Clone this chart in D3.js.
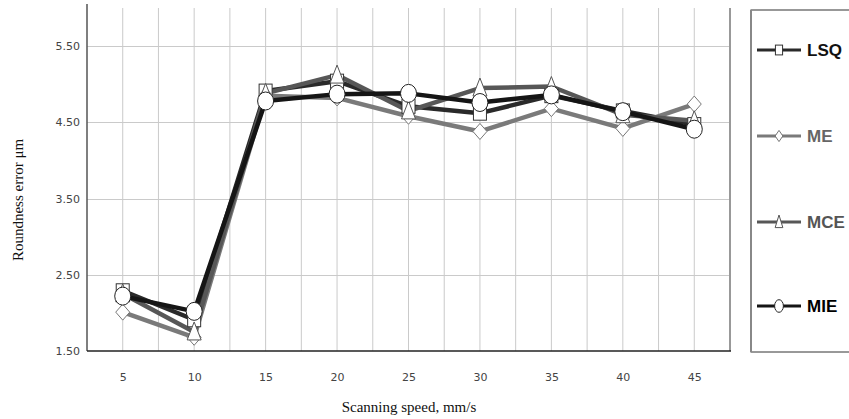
<!DOCTYPE html>
<html><head><meta charset="utf-8">
<script src="https://cdn.jsdelivr.net/npm/d3@7"></script>
<style>html,body{margin:0;padding:0;background:#fff;}svg{display:block;}</style>
</head><body>
<script>
const speeds = [5, 10, 15, 20, 25, 30, 35, 40, 45];
const yTicks = [1.5, 2.5, 3.5, 4.5, 5.5];
const seriesNames = ["LSQ", "ME", "MCE", "MIE"];
const LSQ = [2.29, 1.91, 4.91, 5.04, 4.71, 4.62, 4.85, 4.65, 4.47];
const ME  = [2.01, 1.68, 4.85, 4.82, 4.58, 4.38, 4.68, 4.42, 4.74];
const MCE = [2.25, 1.75, 4.88, 5.12, 4.65, 4.95, 4.97, 4.60, 4.52];
const MIE = [2.22, 2.02, 4.78, 4.87, 4.88, 4.76, 4.86, 4.64, 4.41];
const xTitle = "Scanning speed, mm/s";
const yTitle = "Roundness  error  \u03bcm";

const W = 849, H = 419;
const svg = d3.select("body").append("svg").attr("width", W).attr("height", H);
const x = d3.scaleLinear().domain([2.5, 47.5]).range([87, 730]);
const y = d3.scaleLinear().domain([1.5, 6.0]).range([351, 8]);

const styles = {
  LSQ: {line: "#2a2a2a", stroke: "#333", shape: "square", text: "#111"},
  ME:  {line: "#7a7a7a", stroke: "#777", shape: "diamond", text: "#666"},
  MCE: {line: "#575757", stroke: "#555", shape: "triangle", text: "#555"},
  MIE: {line: "#151515", stroke: "#222", shape: "circle", text: "#000"}
};
const data = {LSQ, ME, MCE, MIE};

// grid
const vGrid = d3.range(5, 47.5, 2.5);
svg.append("g").selectAll("line").data(vGrid).join("line")
  .attr("x1", d => x(d)).attr("x2", d => x(d)).attr("y1", y(6.0)).attr("y2", y(1.5))
  .attr("stroke", "#cacaca").attr("stroke-width", 1);
svg.append("g").selectAll("line").data(yTicks.slice(1)).join("line")
  .attr("x1", x(2.5)).attr("x2", x(47.5)).attr("y1", d => Math.round(y(d)) + 0.5).attr("y2", d => Math.round(y(d)) + 0.5)
  .attr("stroke", "#cacaca").attr("stroke-width", 1);

// borders
svg.append("line").attr("x1", x(47.5)).attr("x2", x(47.5)).attr("y1", y(6.0)).attr("y2", y(1.5))
  .attr("stroke", "#999").attr("stroke-width", 2);
svg.append("line").attr("x1", x(2.5)).attr("x2", x(2.5)).attr("y1", 4).attr("y2", y(1.5))
  .attr("stroke", "#555").attr("stroke-width", 1.5);
svg.append("line").attr("x1", x(2.5)).attr("x2", x(47.5) + 1).attr("y1", y(1.5)).attr("y2", y(1.5))
  .attr("stroke", "#222").attr("stroke-width", 1.5);

// axes labels
const yAxis = d3.axisLeft(y).tickValues(yTicks).tickSize(0).tickPadding(7).tickFormat(d3.format(".2f"));
const gy = svg.append("g").attr("transform", `translate(${x(2.5)},0)`).call(yAxis);
gy.select(".domain").remove();
gy.selectAll("text").attr("font-family", "DejaVu Sans").attr("font-size", 11).attr("fill", "#444");

const xAxis = d3.axisBottom(x).tickValues(speeds).tickSize(0).tickPadding(22).tickFormat(d3.format("d"));
const gx = svg.append("g").attr("transform", `translate(0,${y(1.5)})`).call(xAxis);
gx.select(".domain").remove();
gx.selectAll("text").attr("font-family", "DejaVu Sans").attr("font-size", 11).attr("fill", "#444");

svg.append("text").attr("x", 409).attr("y", 412).attr("text-anchor", "middle")
  .attr("font-family", "Liberation Serif").attr("font-size", 15).attr("fill", "#111").text(xTitle);
svg.append("text").attr("transform", "translate(23,200) rotate(-90)").attr("text-anchor", "middle")
  .attr("font-family", "Liberation Serif").attr("font-size", 15).attr("fill", "#111").text(yTitle);

// markers
function marker(g, shape, cx, cy, stroke, sx, sy) {
  sx = sx || 1; sy = sy || sx;
  if (shape === "square") {
    g.append("rect").attr("x", cx - 6.5 * sx).attr("y", cy - 7 * sy).attr("width", 13 * sx).attr("height", 14 * sy)
      .attr("fill", "#fff").attr("stroke", stroke).attr("stroke-width", 1);
  } else if (shape === "diamond") {
    g.append("path").attr("d", `M${cx},${cy - 8 * sy}L${cx + 7 * sx},${cy}L${cx},${cy + 8 * sy}L${cx - 7 * sx},${cy}Z`)
      .attr("fill", "#fff").attr("stroke", stroke).attr("stroke-width", 1);
  } else if (shape === "triangle") {
    g.append("path").attr("d", `M${cx},${cy - 10 * sy}L${cx + 7 * sx},${cy + 8 * sy}L${cx - 7 * sx},${cy + 8 * sy}Z`)
      .attr("fill", "#fff").attr("stroke", stroke).attr("stroke-width", 1);
  } else {
    g.append("ellipse").attr("cx", cx).attr("cy", cy).attr("rx", 8 * sx).attr("ry", 9 * sy)
      .attr("fill", "#fff").attr("stroke", stroke).attr("stroke-width", 1);
  }
}

const line = d3.line().x((d, i) => x(speeds[i])).y(d => y(d));
const gl = svg.append("g");
seriesNames.forEach(n => {
  gl.append("path").attr("d", line(data[n])).attr("fill", "none")
    .attr("stroke", styles[n].line).attr("stroke-width", 4.5).attr("stroke-linejoin", "round");
});
const gm = svg.append("g");
seriesNames.forEach(n => {
  data[n].forEach((v, i) => marker(gm, styles[n].shape, x(speeds[i]), y(v), styles[n].stroke));
});

// legend
const lg = svg.append("g");
lg.append("rect").attr("x", 751).attr("y", 10).attr("width", 120).attr("height", 342)
  .attr("fill", "#fff").attr("stroke", "#333").attr("stroke-width", 1);
lg.append("line").attr("x1", 751).attr("x2", 751).attr("y1", 10).attr("y2", 352).attr("stroke", "#888").attr("stroke-width", 2);
const legY = [50, 136, 222, 306];
seriesNames.forEach((n, i) => {
  const ly = legY[i];
  lg.append("line").attr("x1", 757).attr("x2", 801).attr("y1", ly).attr("y2", ly)
    .attr("stroke", styles[n].line).attr("stroke-width", 3);
  marker(lg, styles[n].shape, 779, ly, styles[n].stroke, 0.55, 0.7);
  lg.append("text").attr("x", 807).attr("y", ly + 6).attr("font-family", "Liberation Sans").attr("font-weight", "bold")
    .attr("font-size", 17).attr("fill", styles[n].text).text(n);
});
</script>
</body></html>
